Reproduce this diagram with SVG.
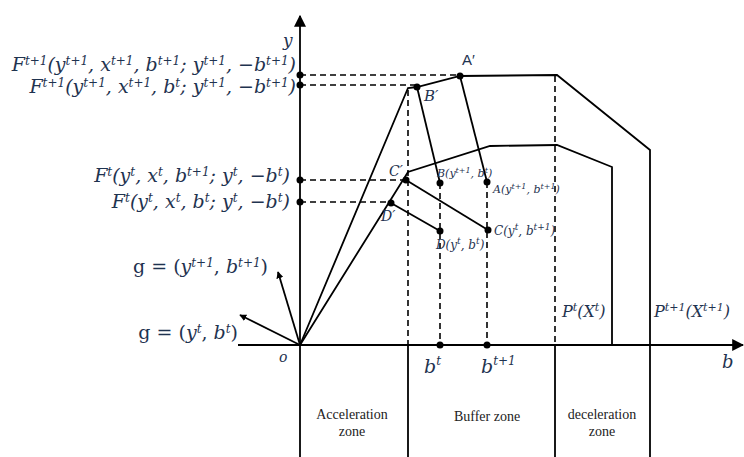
<svg xmlns="http://www.w3.org/2000/svg" width="744" height="457" viewBox="0 0 744 457">
<style>
.ln{stroke:#000;stroke-width:1.8;fill:none}
.ds{stroke:#000;stroke-width:1.6;fill:none;stroke-dasharray:6 4}
.dot{fill:#000}
.m{font-family:"DejaVu Serif",serif;font-style:italic;fill:#1f3350}
.u{font-family:"DejaVu Serif",serif;fill:#1f3350}
.z{font-family:"Liberation Serif",serif;fill:#222;font-size:14px;text-anchor:middle}
.s{font-style:italic}
</style>
<defs>
<marker id="ah" viewBox="0 0 10 10" refX="9" refY="5" markerWidth="7" markerHeight="7" markerUnits="userSpaceOnUse" orient="auto">
<path d="M0,0 L10,5 L0,10 z" fill="#000"/>
</marker>
<marker id="ahb" viewBox="0 0 10 10" refX="9" refY="5" markerWidth="12" markerHeight="12" markerUnits="userSpaceOnUse" orient="auto">
<path d="M0,0 L10,5 L0,10 z" fill="#000"/>
</marker>
</defs>
<g id="axes">
<line class="ln" x1="300" y1="457" x2="300" y2="16" marker-end="url(#ahb)"/>
<line class="ln" x1="238" y1="345" x2="743" y2="345" marker-end="url(#ahb)"/>
<text class="m" x="283" y="46" font-size="17">y</text>
<text class="m" x="279" y="362" font-size="14">o</text>
<text class="m" x="722" y="368" font-size="18">b</text>
</g>
<g id="zones">
<line class="ln" x1="408" y1="345" x2="408" y2="457"/>
<line class="ln" x1="555" y1="345" x2="555" y2="457"/>
<line class="ln" x1="650" y1="345" x2="650" y2="457"/>
<text class="z" x="352" y="419">Acceleration</text>
<text class="z" x="352" y="436">zone</text>
<text class="z" x="487" y="421">Buffer zone</text>
<text class="z" x="602" y="419">deceleration</text>
<text class="z" x="602" y="436">zone</text>
</g>
<g id="connectors">
<polyline class="ln" points="300,345 408,88 417,87 460,76 557,75 650,150 650,345"/>
<polyline class="ln" points="300,345 408,172 490,146 557,145 612,167 612,345"/>
<line class="ln" x1="460" y1="76" x2="487" y2="182"/>
<line class="ln" x1="417" y1="87" x2="440" y2="183"/>
<line class="ln" x1="406" y1="180" x2="488" y2="230"/>
<line class="ln" x1="391" y1="203" x2="440" y2="231"/>
<line class="ds" x1="300" y1="75" x2="460" y2="75"/>
<line class="ds" x1="300" y1="85" x2="417" y2="85"/>
<line class="ds" x1="300" y1="180" x2="406" y2="180"/>
<line class="ds" x1="300" y1="202" x2="391" y2="202"/>
<line class="ds" x1="408" y1="90" x2="408" y2="345"/>
<line class="ds" x1="440" y1="183" x2="440" y2="345"/>
<line class="ds" x1="487" y1="182" x2="487" y2="345"/>
<line class="ds" x1="555" y1="76" x2="555" y2="345"/>
<line class="ln" x1="300" y1="345" x2="278" y2="272" marker-end="url(#ah)"/>
<line class="ln" x1="300" y1="345" x2="240" y2="315" marker-end="url(#ah)"/>
</g>
<g id="dots">
<circle class="dot" cx="300" cy="75" r="3.5"/>
<circle class="dot" cx="300" cy="85" r="3.5"/>
<circle class="dot" cx="300" cy="180" r="3.5"/>
<circle class="dot" cx="300" cy="202" r="3.5"/>
<circle class="dot" cx="460" cy="76" r="3.5"/>
<circle class="dot" cx="417" cy="87" r="3.5"/>
<circle class="dot" cx="406" cy="180" r="3.5"/>
<circle class="dot" cx="391" cy="203" r="3.5"/>
<circle class="dot" cx="440" cy="183" r="3.5"/>
<circle class="dot" cx="487" cy="182" r="3.5"/>
<circle class="dot" cx="488" cy="230" r="3.5"/>
<circle class="dot" cx="440" cy="231" r="3.5"/>
<circle class="dot" cx="440" cy="345" r="3.5"/>
<circle class="dot" cx="487" cy="345" r="3.5"/>
</g>
<g id="y-labels">
<text class="m" x="296" y="71" font-size="19" text-anchor="end">F<tspan dy="-6" font-size="12">t+1</tspan><tspan dy="6">(y</tspan><tspan dy="-6" font-size="12">t+1</tspan><tspan dy="6">, x</tspan><tspan dy="-6" font-size="12">t+1</tspan><tspan dy="6">, b</tspan><tspan dy="-6" font-size="12">t+1</tspan><tspan dy="6">; y</tspan><tspan dy="-6" font-size="12">t+1</tspan><tspan dy="6">, −b</tspan><tspan dy="-6" font-size="12">t+1</tspan><tspan dy="6">)</tspan></text>
<text class="m" x="296" y="93" font-size="19" text-anchor="end">F<tspan dy="-6" font-size="12">t+1</tspan><tspan dy="6">(y</tspan><tspan dy="-6" font-size="12">t+1</tspan><tspan dy="6">, x</tspan><tspan dy="-6" font-size="12">t+1</tspan><tspan dy="6">, b</tspan><tspan dy="-6" font-size="12">t</tspan><tspan dy="6">; y</tspan><tspan dy="-6" font-size="12">t+1</tspan><tspan dy="6">, −b</tspan><tspan dy="-6" font-size="12">t+1</tspan><tspan dy="6">)</tspan></text>
<text class="m" x="290" y="182" font-size="19" text-anchor="end">F<tspan dy="-6" font-size="12">t</tspan><tspan dy="6">(y</tspan><tspan dy="-6" font-size="12">t</tspan><tspan dy="6">, x</tspan><tspan dy="-6" font-size="12">t</tspan><tspan dy="6">, b</tspan><tspan dy="-6" font-size="12">t+1</tspan><tspan dy="6">; y</tspan><tspan dy="-6" font-size="12">t</tspan><tspan dy="6">, −b</tspan><tspan dy="-6" font-size="12">t</tspan><tspan dy="6">)</tspan></text>
<text class="m" x="290" y="208" font-size="19" text-anchor="end">F<tspan dy="-6" font-size="12">t</tspan><tspan dy="6">(y</tspan><tspan dy="-6" font-size="12">t</tspan><tspan dy="6">, x</tspan><tspan dy="-6" font-size="12">t</tspan><tspan dy="6">, b</tspan><tspan dy="-6" font-size="12">t</tspan><tspan dy="6">; y</tspan><tspan dy="-6" font-size="12">t</tspan><tspan dy="6">, −b</tspan><tspan dy="-6" font-size="12">t</tspan><tspan dy="6">)</tspan></text>
<text class="u" x="268" y="273" font-size="19" text-anchor="end">g = (<tspan class="s">y</tspan><tspan class="s" dy="-6" font-size="12">t+1</tspan><tspan dy="6">, </tspan><tspan class="s">b</tspan><tspan class="s" dy="-6" font-size="12">t+1</tspan><tspan dy="6">)</tspan></text>
<text class="u" x="238" y="339" font-size="19" text-anchor="end">g = (<tspan class="s">y</tspan><tspan class="s" dy="-6" font-size="12">t</tspan><tspan dy="6">, </tspan><tspan class="s">b</tspan><tspan class="s" dy="-6" font-size="12">t</tspan><tspan dy="6">)</tspan></text>
</g>
<g id="point-labels">
<text x="462" y="65" font-family="Liberation Sans, sans-serif" font-size="15" fill="#1f3350">A′</text>
<text class="m" x="424" y="101" font-size="15">B′</text>
<text class="m" x="389" y="176" font-size="14">C′</text>
<text class="m" x="381" y="221" font-size="14">D′</text>
<text class="m" x="437" y="177" font-size="11">B(y<tspan dy="-4" font-size="8">t+1</tspan><tspan dy="4">, b</tspan><tspan dy="-4" font-size="8">t</tspan><tspan dy="4">)</tspan></text>
<text class="m" x="493" y="193" font-size="11">A(y<tspan dy="-4" font-size="8">t+1</tspan><tspan dy="4">, b</tspan><tspan dy="-4" font-size="8">t+1</tspan><tspan dy="4">)</tspan></text>
<text class="m" x="494" y="235" font-size="12">C(y<tspan dy="-5" font-size="9">t</tspan><tspan dy="5">, b</tspan><tspan dy="-5" font-size="9">t+1</tspan><tspan dy="5">)</tspan></text>
<text class="m" x="436" y="249" font-size="12">D(y<tspan dy="-5" font-size="9">t</tspan><tspan dy="5">, b</tspan><tspan dy="-5" font-size="9">t</tspan><tspan dy="5">)</tspan></text>
<text class="m" x="562" y="317" font-size="16">P<tspan dy="-6" font-size="11">t</tspan><tspan dy="6">(X</tspan><tspan dy="-6" font-size="11">t</tspan><tspan dy="6">)</tspan></text>
<text class="m" x="654" y="317" font-size="16">P<tspan dy="-6" font-size="11">t+1</tspan><tspan dy="6">(X</tspan><tspan dy="-6" font-size="11">t+1</tspan><tspan dy="6">)</tspan></text>
<text class="m" x="424" y="373" font-size="19">b<tspan dy="-8" font-size="12">t</tspan></text>
<text class="m" x="481" y="373" font-size="19">b<tspan dy="-8" font-size="12">t+1</tspan></text>
</g>
</svg>
